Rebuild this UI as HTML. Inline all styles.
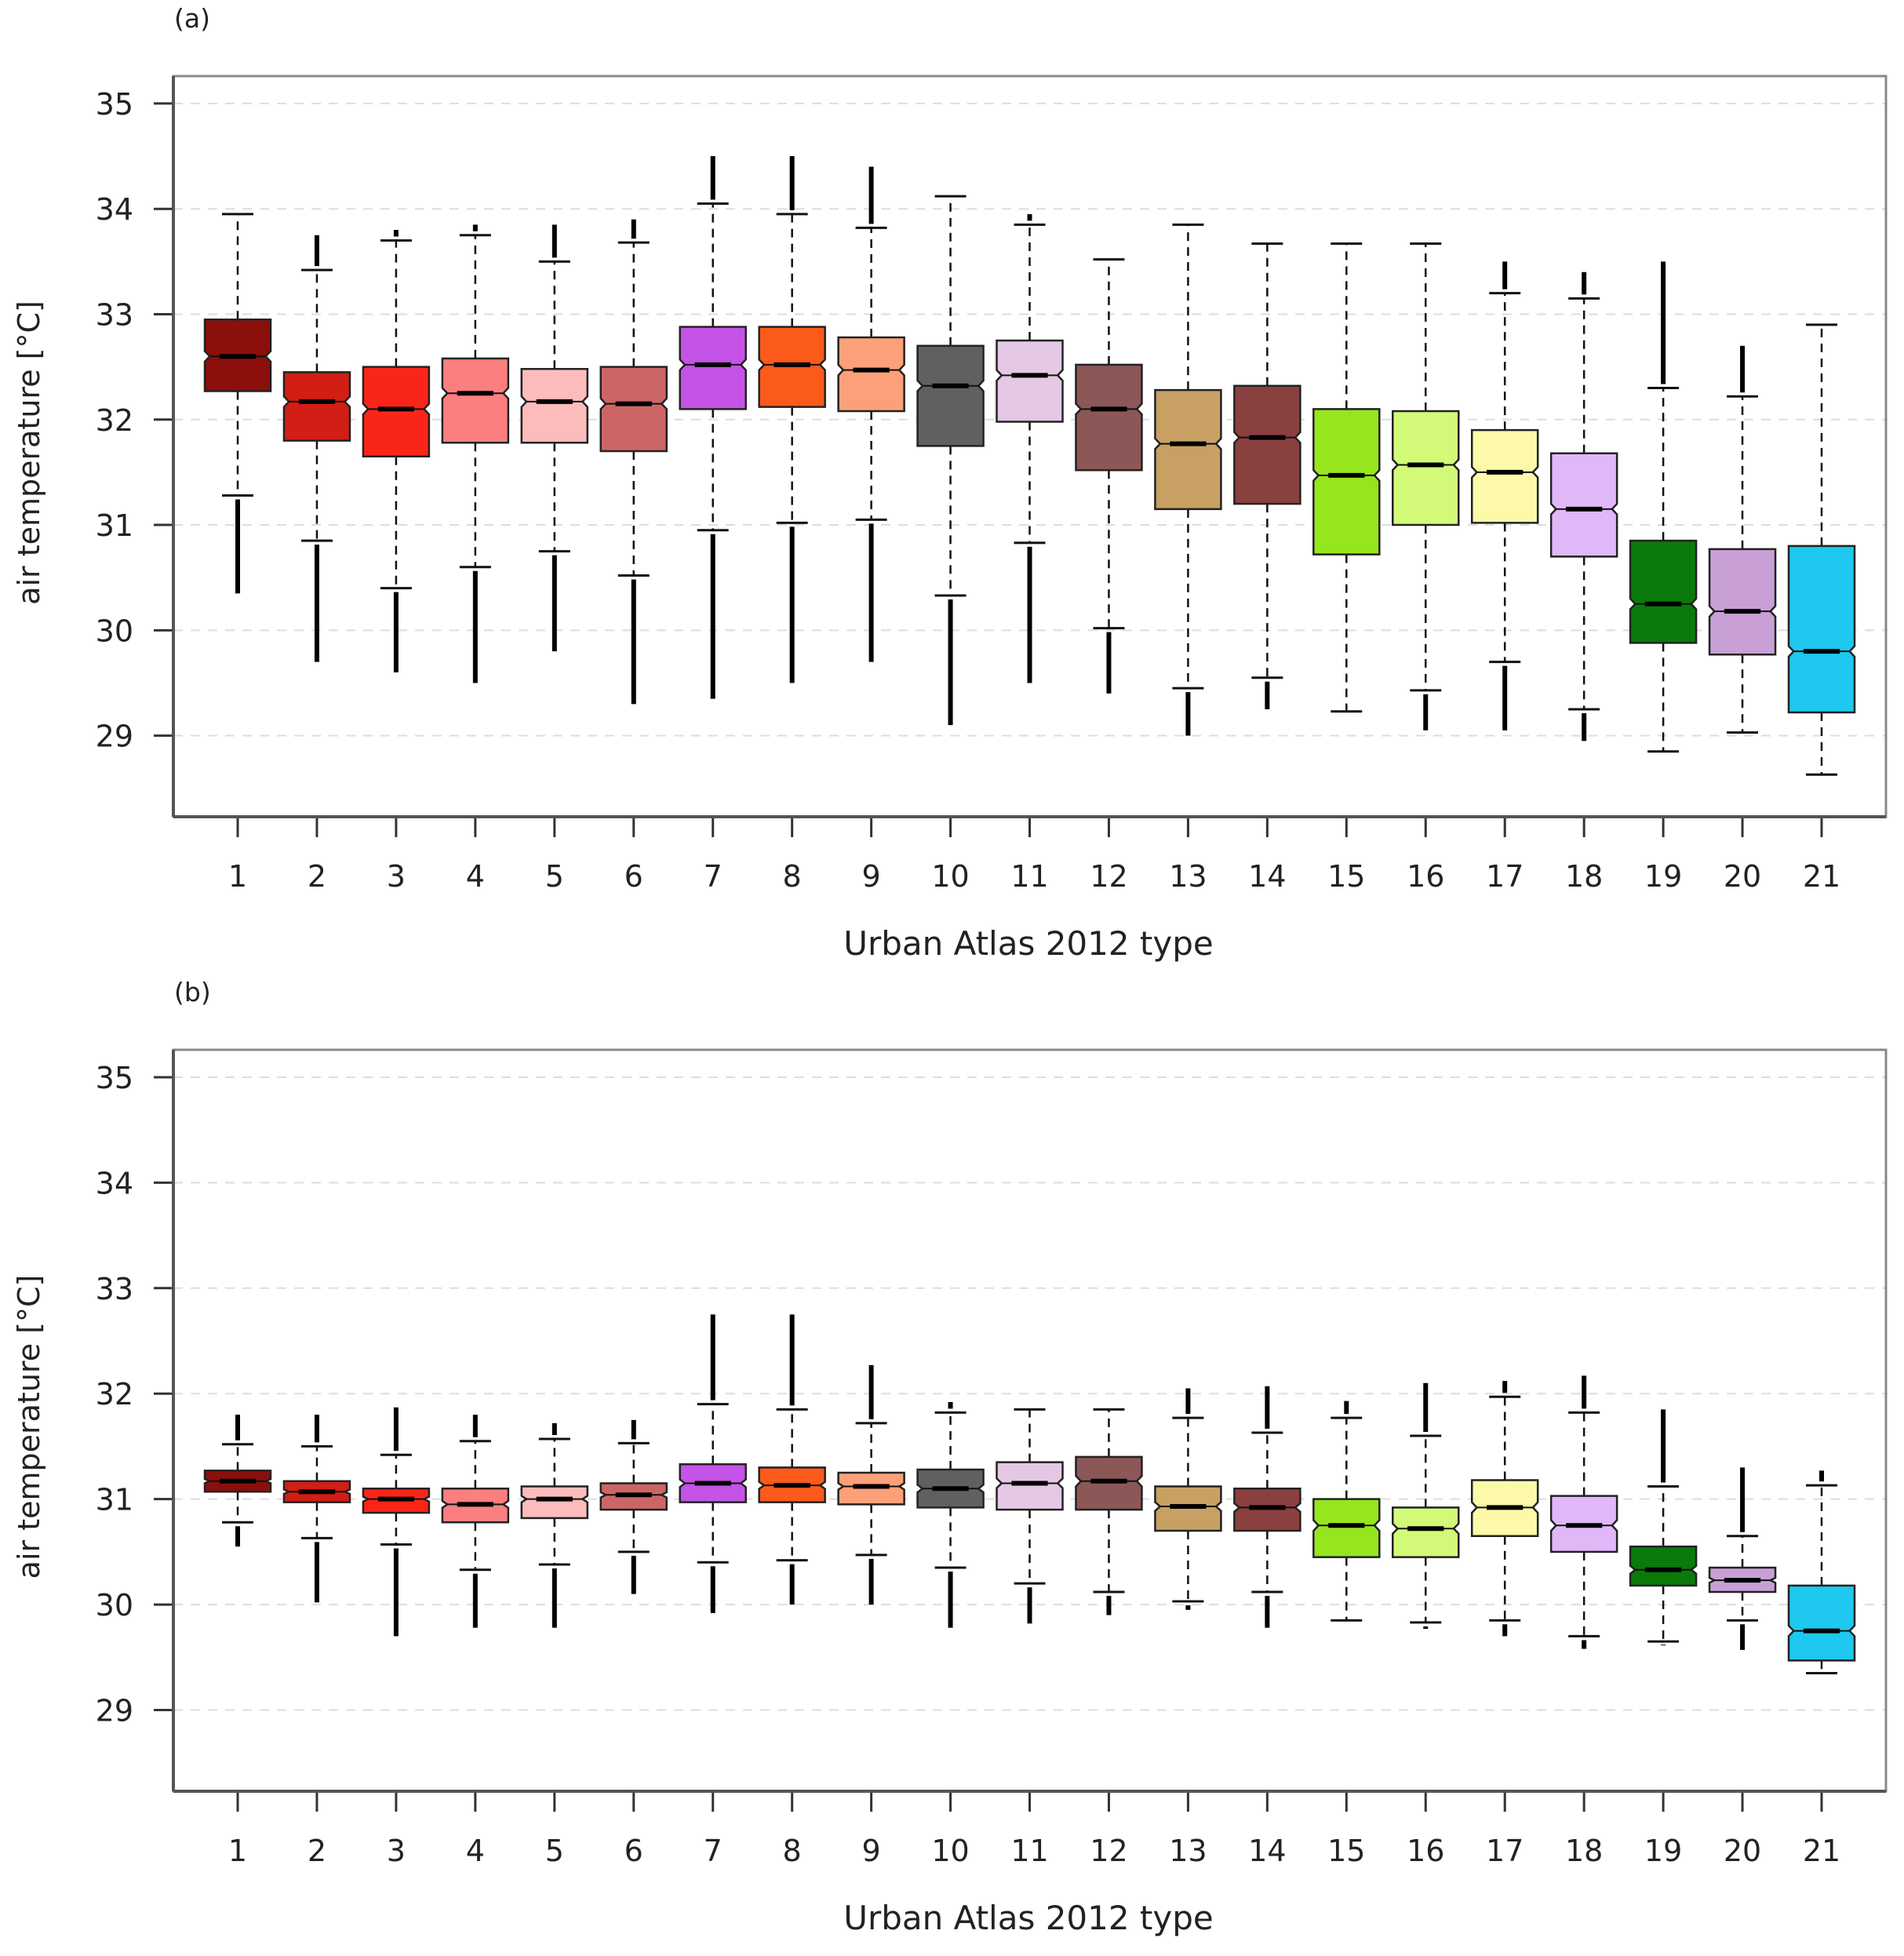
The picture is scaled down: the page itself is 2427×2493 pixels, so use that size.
<!DOCTYPE html>
<html><head><meta charset="utf-8"><style>
body{margin:0;background:#fff}
svg text{font-family:"DejaVu Sans","Liberation Sans",sans-serif;fill:#222}
</style></head><body>
<svg id="chart" width="2427" height="2488" viewBox="0 0 2427 2488" xmlns="http://www.w3.org/2000/svg"></svg>
<script>
const categories=["1","2","3","4","5","6","7","8","9","10","11","12","13","14","15","16","17","18","19","20","21"];
const colors=["#8b0f0a","#d21e14","#fa2519","#fb7f7f","#fcbcbc","#cc6666","#c653e8","#fb5a1a","#fca07a","#606060","#e4c8e4","#8b5757","#c8a064","#8b4040","#96e61e","#d2fa78","#fcfaa8","#e0b8f8","#0a7a0a","#c8a0d6","#1ec8ee"];
const yTicks=[29,30,31,32,33,34,35];
// Panel (a)
const aLo=[31.28,30.85,30.4,30.6,30.75,30.52,30.95,31.02,31.05,30.33,30.83,30.02,29.45,29.55,29.23,29.43,29.7,29.25,28.85,29.03,28.63];
const aQ1=[32.27,31.8,31.65,31.78,31.78,31.7,32.1,32.12,32.08,31.75,31.98,31.52,31.15,31.2,30.72,31.0,31.02,30.7,29.88,29.77,29.22];
const aMed=[32.6,32.17,32.1,32.25,32.17,32.15,32.52,32.52,32.47,32.32,32.42,32.1,31.77,31.83,31.47,31.57,31.5,31.15,30.25,30.18,29.8];
const aQ3=[32.95,32.45,32.5,32.58,32.48,32.5,32.88,32.88,32.78,32.7,32.75,32.52,32.28,32.32,32.1,32.08,31.9,31.68,30.85,30.77,30.8];
const aHi=[33.95,33.42,33.7,33.75,33.5,33.68,34.05,33.95,33.82,34.12,33.85,33.52,33.85,33.67,33.67,33.67,33.2,33.15,32.3,32.22,32.9];
const aOutMin=[30.35,29.7,29.6,29.5,29.8,29.3,29.35,29.5,29.7,29.1,29.5,29.4,29.0,29.25,null,29.05,29.05,28.95,null,null,null];
const aOutMax=[null,33.75,33.8,33.85,33.85,33.9,34.5,34.5,34.4,null,33.95,null,null,null,null,null,33.5,33.4,33.5,32.7,null];
// Panel (b)
const bLo=[30.78,30.63,30.57,30.33,30.38,30.5,30.4,30.42,30.47,30.35,30.2,30.12,30.03,30.12,29.85,29.83,29.85,29.7,29.65,29.85,29.35];
const bQ1=[31.07,30.97,30.87,30.78,30.82,30.9,30.97,30.97,30.95,30.92,30.9,30.9,30.7,30.7,30.45,30.45,30.65,30.5,30.18,30.12,29.47];
const bMed=[31.17,31.07,31.0,30.95,31.0,31.04,31.15,31.13,31.12,31.1,31.15,31.17,30.93,30.92,30.75,30.72,30.92,30.75,30.33,30.23,29.75];
const bQ3=[31.27,31.17,31.1,31.1,31.12,31.15,31.33,31.3,31.25,31.28,31.35,31.4,31.12,31.1,31.0,30.92,31.18,31.03,30.55,30.35,30.18];
const bHi=[31.52,31.5,31.42,31.55,31.57,31.53,31.9,31.85,31.72,31.82,31.85,31.85,31.77,31.63,31.77,31.6,31.97,31.82,31.12,30.65,31.13];
const bOutMin=[30.55,30.02,29.7,29.78,29.78,30.1,29.92,30.0,30.0,29.78,29.82,29.9,29.95,29.78,null,29.77,29.7,29.58,29.62,29.57,null];
const bOutMax=[31.8,31.8,31.87,31.8,31.72,31.75,32.75,32.75,32.27,31.92,null,null,32.05,32.07,31.93,32.1,32.12,32.17,31.85,31.3,31.27];

const svg=document.getElementById('chart');
const NS="http://www.w3.org/2000/svg";
function mk(tag,attrs,parent){const e=document.createElementNS(NS,tag);for(const k in attrs)e.setAttribute(k,attrs[k]);(parent||svg).appendChild(e);return e;}
const L=221,R=2404,x0=303,dx=100.95,bw=84;
function xs(i){return x0+i*dx;}

function panel(top,bottom,label,lo,q1,med,q3,hi,omin,omax,name){
  const vTop=35.26,vBot=28.23;
  const ys=v=>top+(vTop-v)/(vTop-vBot)*(bottom-top);
  const g=mk('g',{});
  
  
  const t=mk('text',{x:222,y:top-62,'font-size':33},g);t.textContent=label;
  
  yTicks.forEach(v=>{
    const gl=mk('line',{x1:L,x2:R,y1:ys(v),y2:ys(v),stroke:'#ddd','stroke-width':2,'stroke-dasharray':'12 10'},g);
    
    mk('line',{x1:196,x2:L,y1:ys(v),y2:ys(v),stroke:'#333','stroke-width':3},g);
    const tl=mk('text',{x:170,y:ys(v)+14,'font-size':38,'text-anchor':'end'},g);tl.textContent=v;
    
  });
  categories.forEach((c,i)=>{
    const x=xs(i);
    mk('line',{x1:x,x2:x,y1:bottom,y2:bottom+26,stroke:'#333','stroke-width':3},g);
    const tl=mk('text',{x:x,y:bottom+89,'font-size':38,'text-anchor':'middle'},g);tl.textContent=c;
    
  });
  const yt=mk('text',{transform:`translate(50,${(top+bottom)/2+8}) rotate(-90)`,'font-size':38,'text-anchor':'middle'},g);
  yt.textContent='air temperature [°C]';
  
  const xt=mk('text',{x:1311,y:bottom+176,'font-size':42,'text-anchor':'middle'},g);
  xt.textContent='Urban Atlas 2012 type';
  
  categories.forEach((c,i)=>{
    const x=xs(i),h=bw/2,cap=20;
    const bg=mk('g',{},g);
    
    
    mk('line',{x1:x,x2:x,y1:ys(q3[i]),y2:ys(hi[i]),stroke:'#111','stroke-width':2.5,'stroke-dasharray':'11 8'},bg);
    mk('line',{x1:x,x2:x,y1:ys(q1[i]),y2:ys(lo[i]),stroke:'#111','stroke-width':2.5,'stroke-dasharray':'11 8'},bg);
    mk('line',{x1:x-cap,x2:x+cap,y1:ys(hi[i]),y2:ys(hi[i]),stroke:'#111','stroke-width':3},bg);
    mk('line',{x1:x-cap,x2:x+cap,y1:ys(lo[i]),y2:ys(lo[i]),stroke:'#111','stroke-width':3},bg);
    if(omin[i]!==null){const o=mk('line',{x1:x,x2:x,y1:ys(lo[i])+5,y2:ys(omin[i]),stroke:'#000','stroke-width':6},bg);
      }
    if(omax[i]!==null){const o=mk('line',{x1:x,x2:x,y1:ys(hi[i])-5,y2:ys(omax[i]),stroke:'#000','stroke-width':6},bg);
      }
    const nh=Math.min(0.1*(q3[i]-q1[i]),0.05),m=ys(med[i]),a=ys(q3[i]),b=ys(q1[i]);
    const nt=ys(med[i]+nh),nb=ys(med[i]-nh),ni=h*0.85;
    const pts=[[x-h,a],[x+h,a],[x+h,nt],[x+ni,m],[x+h,nb],[x+h,b],[x-h,b],[x-h,nb],[x-ni,m],[x-h,nt]].map(p=>p.join(',')).join(' ');
    mk('polygon',{points:pts,fill:colors[i],stroke:'#222','stroke-width':2.5},bg);
    mk('line',{x1:x-ni,x2:x+ni,y1:m,y2:m,stroke:'#111','stroke-width':2},bg);
    mk('line',{x1:x-h*0.55,x2:x+h*0.55,y1:m,y2:m,stroke:'#000','stroke-width':6},bg);
  });
  mk('rect',{x:L,y:top,width:R-L,height:bottom-top,fill:'none',stroke:'#888','stroke-width':3},g);
  mk('line',{x1:L,x2:L,y1:top,y2:bottom,stroke:'#555','stroke-width':4},g);
  mk('line',{x1:L,x2:R,y1:bottom,y2:bottom,stroke:'#555','stroke-width':4},g);
}
panel(97,1041,'(a)',aLo,aQ1,aMed,aQ3,aHi,aOutMin,aOutMax,'panel-a');
panel(1338,2283,'(b)',bLo,bQ1,bMed,bQ3,bHi,bOutMin,bOutMax,'panel-b');
</script>
</body></html>
